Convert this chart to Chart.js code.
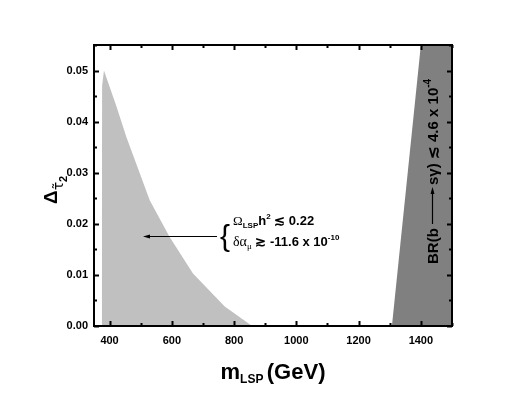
<!DOCTYPE html>
<html>
<head>
<meta charset="utf-8">
<script src="https://cdn.jsdelivr.net/npm/chart.js@4.4.0/dist/chart.umd.min.js"></script>
<style>
  html, body { margin: 0; padding: 0; background: #fff; }
</style>
</head>
<body>
<canvas id="myChart" width="526" height="393"></canvas>
<script>
// light gray region: Omega_LSP h^2 <= 0.22 and delta a_mu constraint
const allowedMass = [375, 376, 382, 422, 454, 529, 593, 668, 770, 858];
const allowedDelta = [0, 0.047, 0.050, 0.043, 0.037, 0.0246, 0.0174, 0.0103, 0.0038, 0];
// dark gray region: excluded by BR(b -> s gamma)
const bsgMass = [1307, 1400, 1500, 1500];
const bsgDelta = [0, 0.055, 0.055, 0];

const xTickLabels = [400, 600, 800, 1000, 1200, 1400];
const yTickLabels = ['0.00', '0.01', '0.02', '0.03', '0.04', '0.05'];

const SANS = '"Liberation Sans", Arial, sans-serif';
const SERIF = '"Liberation Serif", "Times New Roman", serif';

function xLabel(v) {
    return xTickLabels.includes(Math.round(v)) ? String(Math.round(v)) : '';
}
function yLabel(v) {
    const l = yTickLabels.find(s => Math.abs(parseFloat(s) - v) < 1e-9);
    return l || '';
}

// draw a row of text pieces left to right, returns end x
function drawRuns(ctx, x, y, runs) {
    runs.forEach(r => {
        ctx.font = r.font;
        ctx.fillText(r.t, x, y + (r.dy || 0));
        x += ctx.measureText(r.t).width + (r.gap || 0);
    });
    return x;
}

const framePlugin = {
    id: 'frame',
    afterDatasetsDraw(chart) {
        const ctx = chart.ctx;
        const a = chart.chartArea;
        const xs = chart.scales.x, ys = chart.scales.y;
        ctx.save();
        ctx.strokeStyle = '#000';
        ctx.lineWidth = 2;
        // inward ticks on all four sides
        xs.ticks.forEach(t => {
            const px = Math.round(xs.getPixelForValue(t.value)) + 0.5;
            const len = xLabel(t.value) ? 5 : 3;
            ctx.beginPath();
            ctx.moveTo(px, a.bottom); ctx.lineTo(px, a.bottom - len);
            ctx.moveTo(px, a.top); ctx.lineTo(px, a.top + len);
            ctx.stroke();
        });
        ys.ticks.forEach(t => {
            const py = Math.round(ys.getPixelForValue(t.value)) + 0.5;
            const len = yLabel(t.value) ? 5 : 3;
            ctx.beginPath();
            ctx.moveTo(a.left, py); ctx.lineTo(a.left + len, py);
            ctx.moveTo(a.right, py); ctx.lineTo(a.right - len, py);
            ctx.stroke();
        });
        ctx.strokeRect(a.left, a.top, a.right - a.left, a.bottom - a.top);
        ctx.restore();
    },
    afterDraw(chart) {
        const ctx = chart.ctx;
        ctx.save();
        ctx.fillStyle = '#000';
        ctx.strokeStyle = '#000';
        ctx.textAlign = 'left';
        ctx.textBaseline = 'alphabetic';

        // x axis title
        let w;
        ctx.font = 'bold 22px ' + SANS;
        const wM = ctx.measureText('m').width;
        ctx.font = 'bold 12px ' + SANS;
        const wL = ctx.measureText('LSP ').width;
        ctx.font = 'bold 22px ' + SANS;
        w = wM + wL + ctx.measureText('(GeV)').width;
        drawRuns(ctx, 273 - w / 2, 379, [
            { t: 'm', font: 'bold 22px ' + SANS },
            { t: 'LSP ', font: 'bold 12px ' + SANS, dy: 4 },
            { t: '(GeV)', font: 'bold 22px ' + SANS }
        ]);

        // y axis title, rotated
        ctx.save();
        ctx.translate(57, 204);
        ctx.rotate(-Math.PI / 2);
        drawRuns(ctx, 0, 0, [
            { t: 'Δ', font: 'bold 19px ' + SANS },
            { t: 'τ\u0303', font: '14px "DejaVu Sans", sans-serif', dy: 6 },
            { t: '2', font: 'bold 11px ' + SANS, dy: 10 }
        ]);
        ctx.restore();

        // annotation arrow
        ctx.lineWidth = 1;
        ctx.beginPath();
        ctx.moveTo(217, 236.5); ctx.lineTo(146, 236.5);
        ctx.stroke();
        ctx.beginPath();
        ctx.moveTo(143, 236.5); ctx.lineTo(150, 234.5); ctx.lineTo(150, 238.5);
        ctx.closePath();
        ctx.fill();

        // brace and constraint text
        ctx.font = '30px ' + SANS;
        ctx.fillText('{', 220, 246);
        drawRuns(ctx, 233, 225, [
            { t: 'Ω', font: '13px ' + SERIF },
            { t: 'LSP', font: 'bold 8px ' + SANS, dy: 3 },
            { t: 'h', font: 'bold 13px ' + SANS },
            { t: '2', font: 'bold 8px ' + SANS, dy: -6 },
            { t: ' ≲ 0.22', font: 'bold 13px ' + SANS }
        ]);
        drawRuns(ctx, 233, 246, [
            { t: 'δα', font: '14px ' + SERIF },
            { t: 'μ', font: '9px ' + SERIF, dy: 3 },
            { t: ' ≳ -11.6 x 10', font: 'bold 13px ' + SANS },
            { t: '-10', font: 'bold 8px ' + SANS, dy: -6 }
        ]);

        // b -> s gamma label, rotated
        ctx.save();
        ctx.translate(438, 264);
        ctx.rotate(-Math.PI / 2);
        let x = drawRuns(ctx, 0, 0, [{ t: 'BR(b ', font: 'bold 15px ' + SANS }]);
        ctx.lineWidth = 1.2;
        ctx.beginPath();
        ctx.moveTo(x, -5.5); ctx.lineTo(x + 34, -5.5);
        ctx.stroke();
        ctx.beginPath();
        ctx.moveTo(x + 37, -5.5); ctx.lineTo(x + 30, -7.5); ctx.lineTo(x + 30, -3.5);
        ctx.closePath();
        ctx.fill();
        drawRuns(ctx, x + 39, 0, [
            { t: 'sγ) ≲ 4.6 x 10', font: 'bold 15px ' + SANS },
            { t: '-4', font: 'bold 10px ' + SANS, dy: -7 }
        ]);
        ctx.restore();

        ctx.restore();
    }
};

document.addEventListener('DOMContentLoaded', () => {
    const ctx = document.getElementById('myChart').getContext('2d');
    const myChart = new Chart(ctx, {
        type: 'scatter',
        data: {
            datasets: [{
                label: 'allowed',
                data: allowedMass.map((m, i) => ({ x: m, y: allowedDelta[i] })),
                showLine: true,
                fill: 'origin',
                backgroundColor: '#c0c0c0',
                borderColor: '#c0c0c0',
                borderWidth: 0,
                pointRadius: 0,
                tension: 0
            }, {
                label: 'bsg',
                data: bsgMass.map((m, i) => ({ x: m, y: bsgDelta[i] })),
                showLine: true,
                fill: 'origin',
                backgroundColor: '#808080',
                borderColor: '#808080',
                borderWidth: 0,
                pointRadius: 0,
                tension: 0
            }]
        },
        options: {
            responsive: false,
            animation: false,
            layout: { padding: { top: 45, right: 74, left: 0, bottom: 0 } },
            plugins: {
                legend: { display: false },
                tooltip: { enabled: false }
            },
            scales: {
                x: {
                    type: 'linear',
                    min: 350,
                    max: 1500,
                    border: { display: false },
                    grid: { display: false, drawTicks: false },
                    ticks: {
                        stepSize: 100,
                        includeBounds: false,
                        autoSkip: false,
                        maxRotation: 0,
                        padding: 8,
                        color: '#000',
                        font: { family: SANS, size: 11, weight: 'bold' },
                        callback: v => xLabel(v)
                    },
                    afterFit: s => { s.height = 67; }
                },
                y: {
                    min: 0,
                    max: 0.055,
                    border: { display: false },
                    grid: { display: false, drawTicks: false },
                    ticks: {
                        stepSize: 0.005,
                        autoSkip: false,
                        padding: 6,
                        color: '#000',
                        font: { family: SANS, size: 11, weight: 'bold' },
                        callback: v => yLabel(v)
                    },
                    afterFit: s => { s.width = 94; }
                }
            }
        },
        plugins: [framePlugin]
    });
});
</script>
</body>
</html>
